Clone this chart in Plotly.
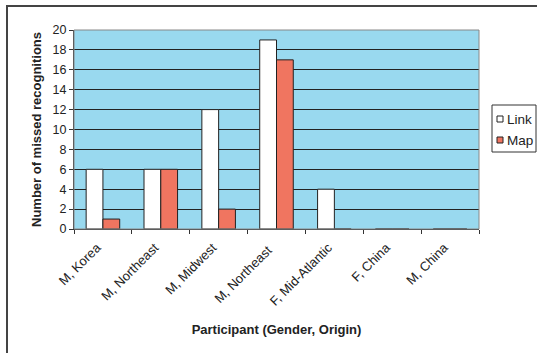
import plotly.graph_objects as go

categories = ["M, Korea", "M, Northeast", "M, Midwest", "M, Northeast ", "F, Mid-Atlantic", "F, China", "M, China"]
link_values = [6, 6, 12, 19, 4, 0, 0]
map_values = [1, 6, 2, 17, 0, 0, 0]
y_ticks = [0, 2, 4, 6, 8, 10, 12, 14, 16, 18, 20]
series_names = ["Link", "Map"]
series_colors = ["#FFFFFF", "#F07560"]

FONT = "Arial, Liberation Sans, sans-serif"
W, H = 537, 353
ML, MR, MT, MB = 74, 58, 30, 124
PW, PH = W - ML - MR, H - MT - MB


def px(x):
    return (x - ML) / PW


def py(y):
    return (H - MB - y) / PH


fig = go.Figure()
for name, vals, col in zip(series_names, [link_values, map_values], series_colors):
    fig.add_trace(go.Bar(x=categories, y=vals, name=name, showlegend=False,
                         marker=dict(color=col, line=dict(color="#222222", width=1))))

shapes = [
    dict(type="rect", xref="paper", yref="paper", x0=px(7), x1=px(600), y0=py(400), y1=py(6),
         line=dict(color="#444444", width=2), fillcolor="rgba(0,0,0,0)", layer="below"),
    dict(type="rect", xref="paper", yref="paper", x0=0, x1=1, y0=0, y1=1,
         line=dict(color="#888888", width=1), fillcolor="rgba(0,0,0,0)", layer="above"),
    # legend box
    dict(type="rect", xref="paper", yref="paper", x0=px(492), x1=px(536), y0=py(152), y1=py(105),
         line=dict(color="#333333", width=1), fillcolor="#FFFFFF", layer="above"),
]
annotations = []
legend_rows = [119, 140]
for name, col, yc in zip(series_names, series_colors, legend_rows):
    shapes.append(dict(type="rect", xref="paper", yref="paper", x0=px(497), x1=px(503),
                       y0=py(yc + 3), y1=py(yc - 3),
                       line=dict(color="#222222", width=1), fillcolor=col, layer="above"))
    annotations.append(dict(text=name, xref="paper", yref="paper", x=px(504.5), y=py(yc),
                            xanchor="left", yanchor="middle", showarrow=False,
                            font=dict(size=13.5, family=FONT, color="#222222")))

fig.update_layout(
    width=W, height=H,
    margin=dict(l=ML, r=MR, t=MT, b=MB, autoexpand=False),
    paper_bgcolor="#FFFFFF",
    plot_bgcolor="#99D9EF",
    barmode="group", bargap=0.42, bargroupgap=0,
    font=dict(family=FONT, color="#222222", size=12),
    showlegend=False,
    shapes=shapes,
    annotations=annotations,
)

fig.update_xaxes(
    type="category", automargin=False,
    tickangle=-45,
    tickfont=dict(size=13, family=FONT, color="#222222"),
    ticklabelshift=-6, ticklabelstandoff=5,
    ticks="outside", ticklen=4, tickcolor="#333333", tickson="boundaries",
    showline=True, linecolor="#333333", linewidth=1,
    showgrid=False,
    title=dict(text="<b>Participant (Gender, Origin)</b>", font=dict(size=13, family=FONT, color="#222222"),
               standoff=17),
)
fig.update_yaxes(
    range=[0, 20], tickvals=y_ticks, automargin=False,
    tickfont=dict(size=12.5, family=FONT, color="#222222"),
    ticks="outside", ticklen=4, tickcolor="#333333",
    showline=True, linecolor="#333333", linewidth=1,
    showgrid=True, gridcolor="#222222", gridwidth=1,
    zeroline=False,
    title=dict(text="<b>Number of missed recognitions</b>", font=dict(size=13, family=FONT, color="#222222"),
               standoff=8),
)

fig.write_html("out.html", config={"displayModeBar": False},
               post_script="document.body.style.margin='0';document.body.style.overflow='hidden';")
